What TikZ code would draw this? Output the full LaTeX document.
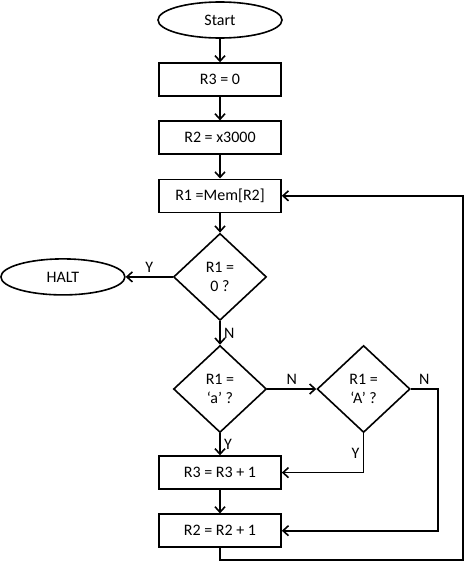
\documentclass[tikz,border=0pt]{standalone}
\usepackage{fontspec}
\setmainfont{Carlito}
\usetikzlibrary{positioning,shapes.geometric,arrows.meta}
\begin{document}
\begin{tikzpicture}[x=1pt, y=-1pt, line width=1.6pt, node distance=23.5pt,
  every node/.style = {font=\fontsize{16}{19}\selectfont},
  term/.style = {draw, ellipse, minimum width=124pt, minimum height=36pt},
  proc/.style = {draw, rectangle, minimum width=122pt, minimum height=33pt},
  test/.style = {draw, diamond, minimum width=93pt, minimum height=87pt, inner sep=0pt, align=center},
  arr/.style = {-{Straight Barb[length=5.5pt,width=10pt]}}]
\useasboundingbox (0,0) rectangle (466,562);
\node[term] (start) at (220,20) {Start};
\node[proc] (r3) [below=of start] {R3 = 0};
\node[proc] (r2) [below=of r3] {R2 = x3000};
\node[proc] (r1) [below=of r2] {R1 =Mem[R2]};
\node[test] (z) [below=19.5pt of r1] {R1 =\\0 ?};
\node[term] (halt) [left=47pt of z] {HALT};
\node[test] (a) [below=of z] {R1 =\\‘a’ ?};
\node[test] (A) [right=49pt of a] {R1 =\\‘A’ ?};
\node[proc] (inc3) [below=22pt of a] {R3 = R3 + 1};
\node[proc] (inc2) [below=of inc3] {R2 = R2 + 1};
\coordinate (back) at (463,560);
\draw[arr] (start) -- (r3);
\draw[arr] (r3) -- (r2);
\draw[arr] (r2) -- (r1);
\draw[arr] (r1) -- (z);
\draw[arr] (z) -- node[above] {Y} (halt);
\draw[arr] (z) -- node[right] {N} (a);
\draw[arr] (a) -- node[above] {N} (A);
\draw[arr] (a) -- node[right] {Y} (inc3);
\draw[arr] (inc3) -- (inc2);
\draw[arr] (A) |- node[pos=0.25, left] {Y} (inc3);
\draw[arr] (A.east) -- node[above] {N} ++(27,0) |- (inc2);
\draw[arr] (inc2) |- (back) |- (r1);
\end{tikzpicture}
\end{document}
